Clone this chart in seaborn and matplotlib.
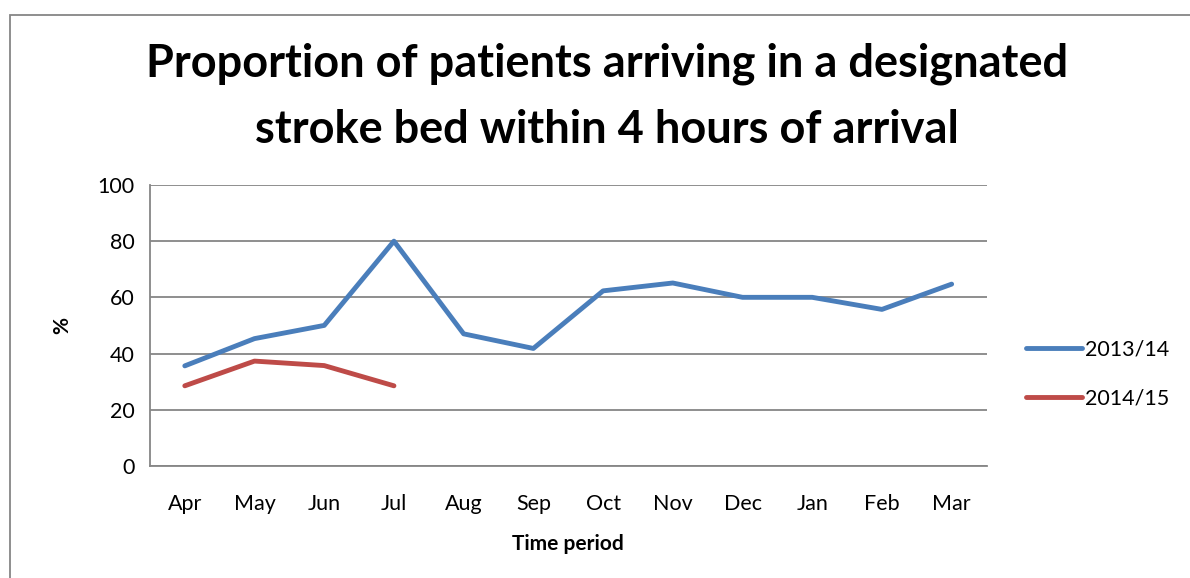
import matplotlib.pyplot as plt
import seaborn as sns
import pandas as pd
from matplotlib.patches import Rectangle
from matplotlib.ticker import MultipleLocator, FixedLocator

sns.set_style("white")
plt.rcParams['font.family'] = ['Lato', 'DejaVu Sans']
plt.rcParams['text.color'] = 'black'
plt.rcParams['xtick.color'] = 'black'
plt.rcParams['ytick.color'] = 'black'
plt.rcParams['axes.labelcolor'] = 'black'

# Data
months = ['Apr', 'May', 'Jun', 'Jul', 'Aug', 'Sep', 'Oct', 'Nov', 'Dec', 'Jan', 'Feb', 'Mar']
y2013 = [35.6, 45.3, 50.0, 80.0, 47.0, 41.8, 62.3, 65.1, 60.0, 60.0, 55.7, 64.7]
y2014 = [28.5, 37.3, 35.7, 28.5]
series_names = ['2013/14', '2014/15']
colors = ['#4A7EBB', '#BE4B48']

rows = []
for i, v in enumerate(y2013):
    rows.append({'pos': i, 'month': months[i], 'value': v, 'series': series_names[0]})
for i, v in enumerate(y2014):
    rows.append({'pos': i, 'month': months[i], 'value': v, 'series': series_names[1]})
df = pd.DataFrame(rows)

fig = plt.figure(figsize=(11.9, 5.78), dpi=100)
ax = fig.add_axes([0.126, 0.194, 0.703, 0.486])

sns.lineplot(data=df, x='pos', y='value', hue='series', palette=colors,
             linewidth=3.5, ax=ax, legend=False, solid_capstyle='round')

ax.set_xlim(-0.5, len(months) - 0.5)
ax.set_ylim(0, 100)
ax.yaxis.set_major_locator(MultipleLocator(20))
ax.set_xticks(range(len(months)))
ax.set_xticklabels(months)
ax.xaxis.set_minor_locator(FixedLocator([i - 0.5 for i in range(len(months) + 1)]))
ax.tick_params(axis='x', which='major', length=0, pad=20, labelsize=15.5)
ax.tick_params(axis='x', which='minor', length=6, color='#868686', width=1.2, direction='out')
ax.tick_params(axis='y', which='major', length=6, color='#868686', width=1.2, direction='out',
               labelsize=15.5, pad=5)
ax.grid(axis='y', color='#868686', linewidth=1.3)
ax.set_axisbelow(True)
for side in ['top', 'right']:
    ax.spines[side].set_visible(False)
for side in ['left', 'bottom']:
    ax.spines[side].set_color('#868686')
    ax.spines[side].set_linewidth(1.3)

ax.set_xlabel('Time period', fontsize=15, fontweight='bold', labelpad=15)
ax.set_ylabel('%', fontsize=15, fontweight='bold', labelpad=18)

fig.text(0.51, 0.833,
         'Proportion of patients arriving in a designated\nstroke bed within 4 hours of arrival',
         ha='center', va='center', fontsize=32.5, fontweight='bold', linespacing=1.72)

handles = [plt.Line2D([], [], color=c, linewidth=3.5, solid_capstyle='round') for c in colors]
fig.legend(handles, series_names, loc='center left', bbox_to_anchor=(0.846, 0.353),
           frameon=False, fontsize=15.5, handlelength=2.6, handletextpad=0.15, labelspacing=1.35)

# outer chart border
fig.patches.append(Rectangle((10 / 1190, -0.01), 1.2, 1 - 15 / 578 + 0.01, transform=fig.transFigure,
                             fill=False, edgecolor='#868686', linewidth=1.3))

plt.savefig('out.png', dpi=100)
plt.close()
